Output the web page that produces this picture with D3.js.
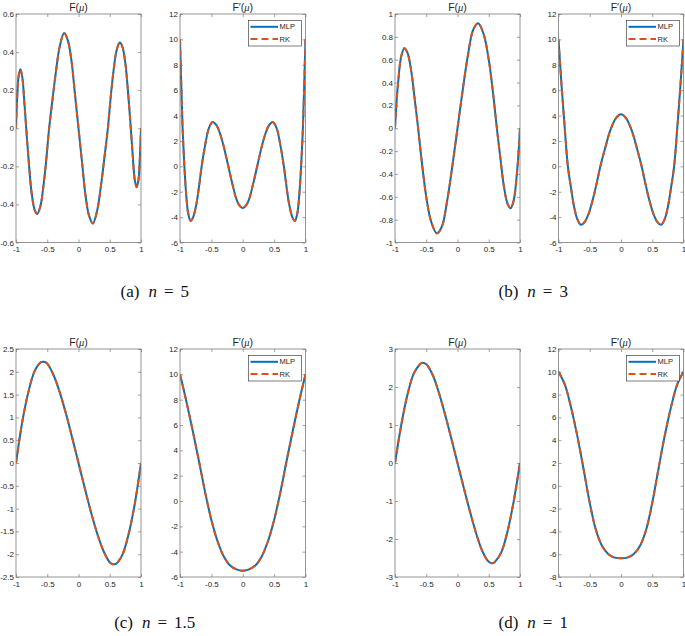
<!DOCTYPE html>
<html>
<head>
<meta charset="utf-8">
<script src="https://cdn.jsdelivr.net/npm/d3@7"></script>
<style>
  body { margin: 0; background: #fff; }
</style>
</head>
<body>
<svg id="chart"></svg>
<script>
// Series names and shared x ticks
const seriesNames = ["MLP", "RK"];
const muTicks = [-1, -0.5, 0, 0.5, 1];

// (a) n = 5  -- [mu, value] pairs
const F_n5 = [[-1, 0], [-0.98, 0.17], [-0.96, 0.27], [-0.93, 0.31], [-0.9, 0.27], [-0.865, 0.13],
  [-0.83, -0.03], [-0.79, -0.2], [-0.75, -0.34], [-0.7, -0.43], [-0.66, -0.45], [-0.61, -0.41],
  [-0.56, -0.3], [-0.52, -0.18], [-0.47, 0], [-0.42, 0.14], [-0.36, 0.3], [-0.3, 0.43],
  [-0.23, 0.5], [-0.17, 0.46], [-0.115, 0.36], [-0.06, 0.19], [0, 0],
  [0.06, -0.19], [0.115, -0.36], [0.17, -0.46], [0.23, -0.5], [0.3, -0.43], [0.36, -0.3],
  [0.42, -0.14], [0.47, 0], [0.52, 0.18], [0.56, 0.3], [0.61, 0.41], [0.66, 0.45], [0.7, 0.43],
  [0.75, 0.34], [0.79, 0.2], [0.83, 0.03], [0.865, -0.13], [0.9, -0.27], [0.93, -0.31],
  [0.96, -0.27], [0.98, -0.17], [1, 0]];
const dF_n5 = [[-1, 10], [-0.98, 6.5], [-0.96, 3.2], [-0.93, 0], [-0.9, -2.3], [-0.87, -3.7],
  [-0.83, -4.3], [-0.79, -4.0], [-0.74, -3.0], [-0.7, -1.7], [-0.655, 0], [-0.6, 1.65],
  [-0.54, 3.0], [-0.48, 3.5], [-0.42, 3.25], [-0.36, 2.55], [-0.3, 1.5], [-0.23, 0],
  [-0.16, -1.5], [-0.1, -2.6], [-0.05, -3.1], [0, -3.3],
  [0.05, -3.1], [0.1, -2.6], [0.16, -1.5], [0.23, 0], [0.3, 1.5], [0.36, 2.55], [0.42, 3.25],
  [0.48, 3.5], [0.54, 3.0], [0.6, 1.65], [0.655, 0], [0.7, -1.7], [0.74, -3.0], [0.79, -4.0],
  [0.83, -4.3], [0.87, -3.7], [0.9, -2.3], [0.93, 0], [0.96, 3.2], [0.98, 6.5], [1, 10]];

// (b) n = 3
const F_n3 = [[-1, 0], [-0.97, 0.27], [-0.95, 0.4], [-0.9, 0.63], [-0.85, 0.7], [-0.8, 0.66],
  [-0.74, 0.5], [-0.69, 0.28], [-0.63, 0], [-0.57, -0.3], [-0.5, -0.6], [-0.42, -0.82],
  [-0.33, -0.92], [-0.25, -0.86], [-0.17, -0.65], [-0.09, -0.36], [0, 0],
  [0.09, 0.36], [0.17, 0.65], [0.25, 0.86], [0.33, 0.92], [0.42, 0.82], [0.5, 0.6],
  [0.57, 0.3], [0.63, 0], [0.69, -0.28], [0.74, -0.5], [0.8, -0.66], [0.85, -0.7],
  [0.9, -0.63], [0.95, -0.4], [0.97, -0.27], [1, 0]];
const dF_n3 = [[-1, 10], [-0.95, 6.3], [-0.9, 3.0], [-0.85, 0], [-0.8, -1.7], [-0.75, -3.2],
  [-0.7, -4.15], [-0.643, -4.6], [-0.58, -4.37], [-0.52, -3.76], [-0.45, -2.6], [-0.39, -1.35],
  [-0.33, 0], [-0.25, 1.5], [-0.17, 2.85], [-0.08, 3.8], [0, 4.1],
  [0.08, 3.8], [0.17, 2.85], [0.25, 1.5], [0.33, 0], [0.39, -1.35], [0.45, -2.6], [0.52, -3.76],
  [0.58, -4.37], [0.643, -4.6], [0.7, -4.15], [0.75, -3.2], [0.8, -1.7], [0.85, 0],
  [0.9, 3.0], [0.95, 6.3], [1, 10]];

// (c) n = 1.5
const F_n15 = [[-1, 0], [-0.9, 0.9], [-0.8, 1.57], [-0.7, 2.02], [-0.6, 2.21], [-0.55, 2.22],
  [-0.5, 2.18], [-0.4, 1.93], [-0.3, 1.55], [-0.2, 1.08], [-0.1, 0.55], [0, 0],
  [0.1, -0.55], [0.2, -1.08], [0.3, -1.55], [0.4, -1.93], [0.5, -2.18], [0.55, -2.22],
  [0.6, -2.21], [0.7, -2.02], [0.8, -1.57], [0.9, -0.9], [1, 0]];
const dF_n15 = [[-1, 10], [-0.9, 7.9], [-0.8, 5.6], [-0.7, 3.2], [-0.6, 0.7], [-0.5, -1.5],
  [-0.4, -3.2], [-0.3, -4.4], [-0.2, -5.1], [-0.1, -5.4], [0, -5.5],
  [0.1, -5.4], [0.2, -5.1], [0.3, -4.4], [0.4, -3.2], [0.5, -1.5], [0.6, 0.7], [0.7, 3.2],
  [0.8, 5.6], [0.9, 7.9], [1, 10]];

// (d) n = 1
const F_n1 = [[-1, 0], [-0.9, 1.0], [-0.8, 1.8], [-0.7, 2.35], [-0.6, 2.6], [-0.56, 2.64],
  [-0.5, 2.6], [-0.4, 2.33], [-0.3, 1.86], [-0.2, 1.28], [-0.1, 0.65], [0, 0],
  [0.1, -0.65], [0.2, -1.28], [0.3, -1.86], [0.4, -2.33], [0.5, -2.6], [0.56, -2.64],
  [0.6, -2.6], [0.7, -2.35], [0.8, -1.8], [0.9, -1.0], [1, 0]];
const dF_n1 = [[-1, 10], [-0.9, 8.9], [-0.8, 6.9], [-0.7, 4.4], [-0.6, 1.5], [-0.5, -1.5],
  [-0.4, -3.9], [-0.3, -5.3], [-0.2, -6.0], [-0.1, -6.3], [0, -6.35],
  [0.1, -6.3], [0.2, -6.0], [0.3, -5.3], [0.4, -3.9], [0.5, -1.5], [0.6, 1.5],
  [0.7, 4.4], [0.8, 6.9], [0.9, 8.9], [1, 10]];

// y tick values
const yTicksF_n5 = [-0.6, -0.4, -0.2, 0, 0.2, 0.4, 0.6];
const yTicksF_n3 = [-1, -0.8, -0.6, -0.4, -0.2, 0, 0.2, 0.4, 0.6, 0.8, 1];
const yTicksF_n15 = [-2.5, -2, -1.5, -1, -0.5, 0, 0.5, 1, 1.5, 2, 2.5];
const yTicksF_n1 = [-3, -2, -1, 0, 1, 2, 3];
const yTicksDF = [-6, -4, -2, 0, 2, 4, 6, 8, 10, 12];
const yTicksDF_n1 = [-8, -6, -4, -2, 0, 2, 4, 6, 8, 10, 12];

// sub-figure captions
const captionLabels = ["(a)", "(b)", "(c)", "(d)"];
const nValues = ["5", "3", "1.5", "1"];

// ---- layout ----
const width = 685, height = 636;
const rows = [{ top: 14, bottom: 242.5, caption: 297 }, { top: 349, bottom: 577, caption: 628 }];
const cols = [{ left: 16, right: 141 }, { left: 180, right: 305.5 },
              { left: 395, right: 520 }, { left: 558.5, right: 683.5 }];
const blue = "#0072BD", orange = "#D95319";
const axisColor = "#7a7a7a";
const tickFont = "8px 'Liberation Sans', Arial, sans-serif";

const panels = [
  { row: 0, col: 0, data: F_n5, yDomain: [-0.6, 0.6], yTicks: yTicksF_n5, prime: false },
  { row: 0, col: 1, data: dF_n5, yDomain: [-6, 12], yTicks: yTicksDF, prime: true },
  { row: 0, col: 2, data: F_n3, yDomain: [-1, 1], yTicks: yTicksF_n3, prime: false },
  { row: 0, col: 3, data: dF_n3, yDomain: [-6, 12], yTicks: yTicksDF, prime: true },
  { row: 1, col: 0, data: F_n15, yDomain: [-2.5, 2.5], yTicks: yTicksF_n15, prime: false },
  { row: 1, col: 1, data: dF_n15, yDomain: [-6, 12], yTicks: yTicksDF, prime: true },
  { row: 1, col: 2, data: F_n1, yDomain: [-3, 3], yTicks: yTicksF_n1, prime: false },
  { row: 1, col: 3, data: dF_n1, yDomain: [-8, 12], yTicks: yTicksDF_n1, prime: true }
];

const svg = d3.select("#chart")
  .attr("width", width)
  .attr("height", height)
  .style("background", "#fff");

const fmt = d => String(d);

panels.forEach((p, i) => {
  const col = cols[p.col], row = rows[p.row];
  const x = d3.scaleLinear().domain([-1, 1]).range([col.left, col.right]);
  const y = d3.scaleLinear().domain(p.yDomain).range([row.bottom, row.top]);
  const g = svg.append("g");

  svg.append("clipPath").attr("id", "clip" + i)
    .append("rect")
    .attr("x", col.left).attr("y", row.top)
    .attr("width", col.right - col.left).attr("height", row.bottom - row.top);

  // ticks on all four sides, pointing inward
  g.append("g").attr("transform", `translate(0,${row.bottom})`)
    .call(d3.axisBottom(x).tickValues(muTicks).tickSize(-3).tickSizeOuter(0).tickPadding(4).tickFormat(fmt));
  g.append("g").attr("transform", `translate(0,${row.top})`)
    .call(d3.axisTop(x).tickValues(muTicks).tickSize(-3).tickSizeOuter(0).tickFormat(""));
  g.append("g").attr("transform", `translate(${col.left},0)`)
    .call(d3.axisLeft(y).tickValues(p.yTicks).tickSize(-3).tickSizeOuter(0).tickPadding(2).tickFormat(fmt));
  g.append("g").attr("transform", `translate(${col.right},0)`)
    .call(d3.axisRight(y).tickValues(p.yTicks).tickSize(-3).tickSizeOuter(0).tickFormat(""));
  g.selectAll(".domain").remove();
  g.selectAll(".tick line").attr("stroke", axisColor).attr("stroke-width", 0.7);
  g.selectAll(".tick text").attr("fill", "#262626").style("font", tickFont);

  // curves: MLP solid, RK dashed on top
  const line = d3.line()
    .x(d => x(d[0]))
    .y(d => y(d[1]))
    .curve(d3.curveCatmullRom.alpha(0.5));

  const plot = g.append("g").attr("clip-path", `url(#clip${i})`);
  plot.append("path")
    .datum(p.data)
    .attr("d", line)
    .attr("fill", "none")
    .attr("stroke", blue)
    .attr("stroke-width", 2);
  plot.append("path")
    .datum(p.data)
    .attr("d", line)
    .attr("fill", "none")
    .attr("stroke", orange)
    .attr("stroke-width", 2)
    .attr("stroke-dasharray", "6,4");

  // axes box
  g.append("rect")
    .attr("x", col.left).attr("y", row.top)
    .attr("width", col.right - col.left).attr("height", row.bottom - row.top)
    .attr("fill", "none")
    .attr("stroke", axisColor)
    .attr("stroke-width", 0.8);

  // title F(mu) / F'(mu)
  const title = g.append("text")
    .attr("x", (col.left + col.right) / 2)
    .attr("y", row.top - 3.5)
    .attr("text-anchor", "middle")
    .attr("fill", "#262626")
    .style("font", "10.5px 'Liberation Sans', Arial, sans-serif");
  title.append("tspan").text("F");
  if (p.prime) title.append("tspan").text("\u2032");
  title.append("tspan").text("(");
  title.append("tspan").style("font-family", "'Liberation Serif', serif").style("font-style", "italic").text("\u03bc");
  title.append("tspan").text(")");

  // legend on the derivative panels
  if (p.prime) {
    const lw = 53, lh = 25.5;
    const legend = g.append("g")
      .attr("transform", `translate(${col.right - 4 - lw},${row.top + 6.5})`);
    legend.append("rect")
      .attr("width", lw).attr("height", lh)
      .attr("fill", "#fff")
      .attr("stroke", "#262626")
      .attr("stroke-width", 0.6);
    seriesNames.forEach((name, k) => {
      const ly = 6.3 + k * 12.3;
      legend.append("line")
        .attr("x1", 2).attr("x2", 29.5)
        .attr("y1", ly).attr("y2", ly)
        .attr("stroke", k === 0 ? blue : orange)
        .attr("stroke-width", 2)
        .attr("stroke-dasharray", k === 0 ? null : "7,4");
      legend.append("text")
        .attr("x", 31).attr("y", ly)
        .attr("dy", "0.35em")
        .attr("fill", "#262626")
        .style("font", "7.5px 'Liberation Sans', Arial, sans-serif")
        .text(name);
    });
  }
});

// captions under each pair
captionLabels.forEach((lab, k) => {
  const row = rows[Math.floor(k / 2)];
  const c0 = cols[(k % 2) * 2], c1 = cols[(k % 2) * 2 + 1];
  const t = svg.append("text")
    .attr("x", (c0.left + c1.right) / 2 - 6)
    .attr("y", row.caption)
    .attr("text-anchor", "middle")
    .attr("fill", "#111")
    .style("font", "17px 'Liberation Serif', 'Times New Roman', serif");
  t.append("tspan").text(lab);
  t.append("tspan").attr("dx", 9).style("font-style", "italic").text("n");
  t.append("tspan").attr("dx", 7).text("=");
  t.append("tspan").attr("dx", 7).text(nValues[k]);
});
</script>
</body>
</html>
